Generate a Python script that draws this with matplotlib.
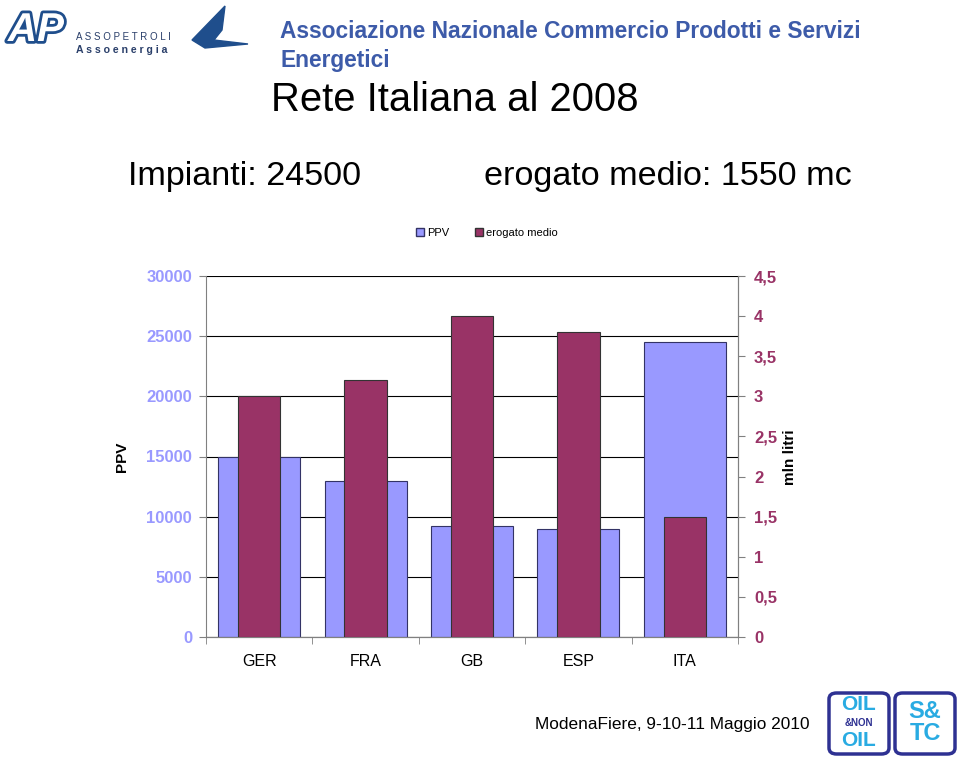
import numpy as np
import matplotlib.pyplot as plt
from matplotlib.patches import FancyBboxPatch, Polygon
from matplotlib.lines import Line2D
import matplotlib.patheffects as pe

plt.rcParams['font.family'] = ['Liberation Sans', 'DejaVu Sans']

paesi = ['GER', 'FRA', 'GB', 'ESP', 'ITA']
ppv = [15000, 13000, 9200, 9000, 24500]
erogato = [3.0, 3.2, 4.0, 3.8, 1.5]
ppv_ticks = [0, 5000, 10000, 15000, 20000, 25000, 30000]
erog_ticks = [0, 0.5, 1, 1.5, 2, 2.5, 3, 3.5, 4, 4.5]

C_PPV = '#9999ff'
C_EROG = '#993366'
C_BLU = '#3d5ba9'

fig = plt.figure(figsize=(9.6, 7.58), dpi=100)

# intestazione
fig.text(280 / 960, 1 - 32 / 758, 'Associazione Nazionale Commercio Prodotti e Servizi',
         fontsize=16.4, fontweight='bold', color=C_BLU, va='center')
fig.text(280 / 960, 1 - 60 / 758, 'Energetici',
         fontsize=16.4, fontweight='bold', color=C_BLU, va='center')
fig.text(455 / 960, 1 - 100 / 758, 'Rete Italiana al 2008',
         fontsize=28.8, ha='center', va='center')
fig.text(128 / 960, 1 - 176 / 758, 'Impianti: 24500', fontsize=24.6, va='center')
fig.text(484 / 960, 1 - 176 / 758, 'erogato medio: 1550 mc', fontsize=24.6, va='center')
fig.text(535 / 960, 1 - 724 / 758, 'ModenaFiere, 9-10-11 Maggio 2010',
         fontsize=12.4, va='center')

# loghi in alto a sinistra
fig.text(36 / 960, 1 - 30 / 758, 'AP', fontsize=29, fontweight='bold', style='italic',
         color='white', ha='center', va='center',
         path_effects=[pe.withStroke(linewidth=4, foreground='#1f4e8c')])
fig.text(76 / 960, 1 - 37 / 758, 'A S S O P E T R O L I', fontsize=7,
         color='#2a3f6a', va='center')
fig.text(76 / 960, 1 - 50 / 758, 'A s s o e n e r g i a', fontsize=7.6,
         fontweight='bold', color='#2a3f6a', va='center')
fig.add_artist(Polygon([(225 / 960, 1 - 6 / 758), (192 / 960, 1 - 40 / 758),
                        (205 / 960, 1 - 48 / 758), (248 / 960, 1 - 44 / 758),
                        (214 / 960, 1 - 40 / 758), (222 / 960, 1 - 30 / 758)],
                       closed=True, color='#1f4e8c', transform=fig.transFigure))

# loghi in basso a destra
for x0, righe in [(829, [('OIL', '#29abe2', 15), ('&NON', '#2e3192', 7), ('OIL', '#29abe2', 15)]),
                  (895, [('S&', '#29abe2', 17), ('TC', '#29abe2', 17)])]:
    box = FancyBboxPatch((x0 / 960, 1 - 754 / 758), 60 / 960, 61 / 758,
                         boxstyle='round,pad=0,rounding_size=0.008',
                         transform=fig.transFigure, facecolor='white',
                         edgecolor='#2e3192', linewidth=2.5)
    fig.add_artist(box)
    n = len(righe)
    for i, (t, c, s) in enumerate(righe):
        y = 723 + (i - (n - 1) / 2) * (18 if n == 3 else 22)
        fig.text((x0 + 30) / 960, 1 - y / 758, t, fontsize=s, fontweight='bold',
                 color=c, ha='center', va='center')

# grafico
ax = fig.add_axes([206 / 960, 1 - 637 / 758, 532 / 960, 361 / 758])
ax2 = ax.twinx()

x = np.arange(len(paesi))
ax.bar(x, ppv, width=0.77, color=C_PPV, edgecolor='#333366', linewidth=0.8, zorder=2)
ax2.bar(x, erogato, width=0.40, color=C_EROG, edgecolor='#333333', linewidth=0.8, zorder=3)

ax.set_xlim(-0.5, len(paesi) - 0.5)
ax.set_ylim(0, 30000)
ax2.set_ylim(0, 4.5)

ax.set_yticks(ppv_ticks)
ax.set_yticklabels([str(v) for v in ppv_ticks], color=C_PPV, fontsize=12, fontweight='bold')
ax2.set_yticks(erog_ticks)
ax2.set_yticklabels([('%g' % v).replace('.', ',') for v in erog_ticks],
                    color=C_EROG, fontsize=12, fontweight='bold')

ax.yaxis.grid(True, color='black', linewidth=0.8, zorder=0)
ax.set_axisbelow(True)

ax.set_xticks(x)
ax.set_xticklabels(paesi, fontsize=11.5)
ax.tick_params(axis='x', length=0, pad=12)
ax.set_xticks(np.arange(-0.5, len(paesi)), minor=True)
ax.tick_params(axis='x', which='minor', length=5, color='#808080')
ax.tick_params(axis='y', length=5, color='#808080', pad=5)
ax2.tick_params(axis='y', length=5, color='#808080', pad=6.5)

for a in (ax, ax2):
    a.spines['top'].set_visible(False)
    for s in ('left', 'right', 'bottom'):
        a.spines[s].set_color('#808080')
ax2.spines['left'].set_visible(False)

fig.text(122 / 960, 1 - 457 / 758, 'PPV', rotation=90, fontsize=11,
         fontweight='bold', ha='center', va='center')
fig.text(790 / 960, 1 - 457 / 758, 'mln litri', rotation=90, fontsize=11,
         fontweight='bold', ha='center', va='center')

handles = [Line2D([], [], marker='s', linestyle='', markersize=6,
                  markerfacecolor=C_PPV, markeredgecolor='#333366'),
           Line2D([], [], marker='s', linestyle='', markersize=6,
                  markerfacecolor=C_EROG, markeredgecolor='#333333')]
fig.legend(handles, ['PPV', 'erogato medio'], loc='center',
           bbox_to_anchor=(486 / 960, 1 - 233 / 758), ncol=2, frameon=False,
           fontsize=8, handletextpad=0.1, columnspacing=2.2, handlelength=1)

fig.savefig('out.png', dpi=100)
